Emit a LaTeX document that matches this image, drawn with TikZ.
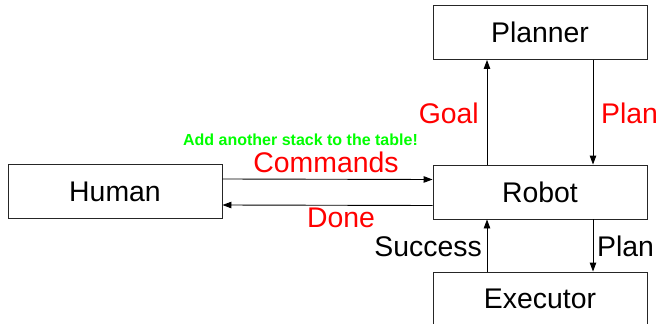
\documentclass[tikz,border=0pt]{standalone}
\usepackage{fontspec}
\setmainfont{Liberation Sans}
\usetikzlibrary{arrows.meta}
\tikzset{
  box/.style={draw=black!85, line width=0.9pt, minimum width=214pt, minimum height=54pt,
    inner sep=0pt, font=\fontsize{28.4}{34}\selectfont},
  arr/.style={draw=black, line width=0.9pt, -{Triangle[length=9pt,width=6.5pt]}},
  lbl/.style={inner sep=0pt, font=\fontsize{28.4}{34}\selectfont},
  red lbl/.style={lbl, text=red},
  note/.style={inner sep=0pt, text=green, font=\fontsize{16}{19}\selectfont\bfseries}
}
\begin{document}
\begin{tikzpicture}[x=1pt,y=-1pt]
\useasboundingbox (0,0) rectangle (659,324);
\clip (0,0) rectangle (659,324);
% the four components
\node[box] (human)    at (115,191.5) {Human};
\node[box] (robot)    at (540,192)   {Robot};
\node[box] (planner)  at (540,32.5)  {Planner};
\node[box] (executor) at (540,299)   {Executor};
% human <-> robot
\draw[arr] ([yshift=12.5pt]human.east) -- ([yshift=12.5pt]robot.west);
\draw[arr] ([yshift=-13.5pt]robot.west) -- ([yshift=-13.5pt]human.east);
% robot <-> planner
\draw[arr] ([xshift=-53pt]robot.north) -- ([xshift=-53pt]planner.south);
\draw[arr] ([xshift=53pt]planner.south) -- ([xshift=53pt]robot.north);
% robot <-> executor
\draw[arr] ([xshift=-53pt]executor.north) -- ([xshift=-53pt]robot.south);
\draw[arr] ([xshift=53pt]robot.south) -- ([xshift=53pt]executor.north);
% labels
\node[note, anchor=base] (cmdtext) at (300.5,145) {Add another stack to the table!};
\node[red lbl, anchor=base] (commands) at (326,172) {Commands};
\node[red lbl, anchor=base] (done) at (341,227) {Done};
\node[red lbl, anchor=base east] (goal) at (479,123) {Goal};
\node[red lbl, anchor=base west] (plan1) at (601,123) {Plan};
\node[lbl, anchor=base east] (success) at (482,256) {Success};
\node[lbl, anchor=base west] (plan2) at (597,256) {Plan};
\end{tikzpicture}
\end{document}
